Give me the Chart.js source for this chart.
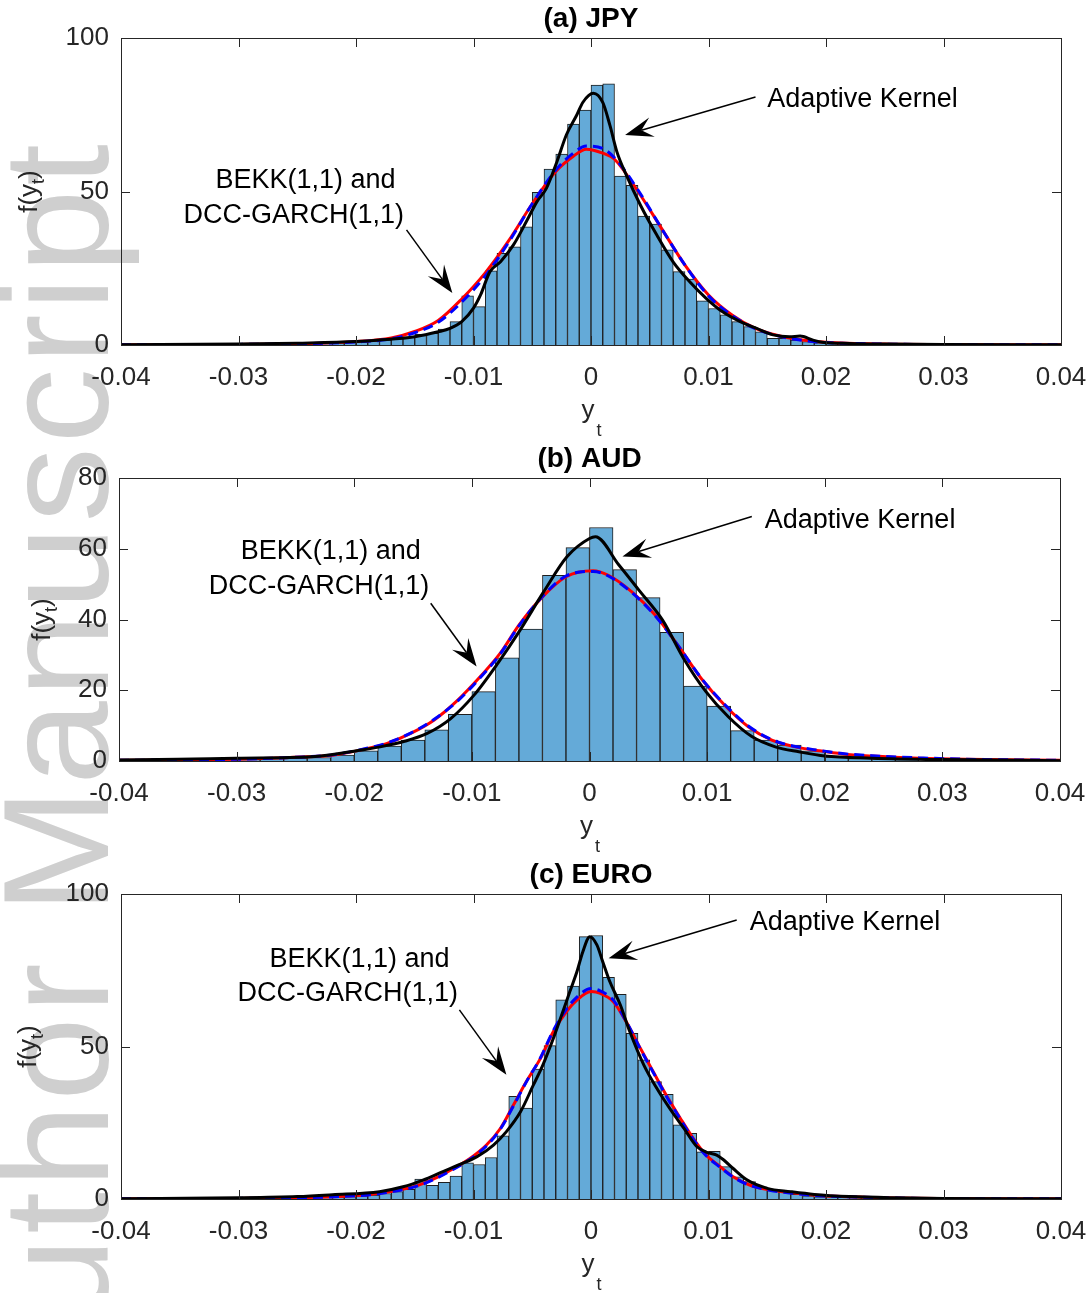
<!DOCTYPE html>
<html>
<head>
<meta charset="utf-8">
<script src="https://cdn.jsdelivr.net/npm/chart.js@4.4.1/dist/chart.umd.min.js"></script>
<style>
  html, body { margin: 0; padding: 0; background: #fff; }
  #page { position: relative; width: 1091px; height: 1293px; overflow: hidden; }
  #page canvas { position: absolute; left: 0; top: 0; }
</style>
</head>
<body>
<div id="page">
  <canvas id="jpy" width="1091" height="1293"></canvas>
  <canvas id="aud" width="1091" height="1293"></canvas>
  <canvas id="euro" width="1091" height="1293"></canvas>
</div>
<script>
// shared x axis
const xTicks = [-0.04, -0.03, -0.02, -0.01, 0, 0.01, 0.02, 0.03, 0.04];
const xTickText = ['-0.04', '-0.03', '-0.02', '-0.01', '0', '0.01', '0.02', '0.03', '0.04'];

// (a) JPY
const jpyYTicks = [0, 50, 100];
const jpyBinStart = -0.030;
const jpyBinWidth = 0.001;
const jpyDensity = [0.2, 0.2, 0.3, 0.3, 0.4, 0.4, 0.5, 0.6, 0.8, 1.0, 1.1, 1.3, 1.6, 2.2, 2.7, 3.5, 3.8, 5.2, 7.6, 16,
  12.5, 24.2, 29.9, 32, 38.5, 49.7, 57.3, 62.2, 72, 76.5, 84.7, 85.1, 55, 52, 42, 39.4, 31, 23.9, 21.5, 14.4,
  11.9, 9.8, 7.6, 6.0, 4.3, 2.2, 2.2, 1.6, 1.1, 0.7, 0.5, 0.4, 0.3, 0.2, 0.2];
const jpyModelX = [-0.04, -0.03, -0.025, -0.02, -0.017, -0.015, -0.013, -0.011, -0.009, -0.007, -0.005, -0.003, -0.0015,
  -0.0004, 0.001, 0.002, 0.004, 0.006, 0.008, 0.010, 0.012, 0.014, 0.016, 0.018, 0.020, 0.025, 0.03, 0.04];
const jpyBekk = [0.05, 0.2, 0.4, 1.1, 2.3, 4.4, 8.0, 15.0, 23.5, 34, 46, 56.5, 61.5, 63.8, 62.5, 60.5, 50, 38, 26,
  16.3, 9.8, 5.4, 3.0, 1.6, 0.9, 0.3, 0.15, 0.05];
const jpyDcc = [0.05, 0.2, 0.4, 1.0, 2.0, 4.0, 7.4, 14.0, 22.5, 33.5, 46, 57, 62.5, 64.8, 64, 61, 50.5, 38, 26,
  16, 9.6, 5.3, 2.9, 1.5, 0.8, 0.3, 0.15, 0.05];
const jpyKernelX = [-0.04, -0.03, -0.025, -0.02, -0.018, -0.015, -0.013, -0.012, -0.011, -0.010, -0.0094, -0.0086,
  -0.0077, -0.0066, -0.0055, -0.0046, -0.0038, -0.0029, -0.0021, -0.0012, -0.0007, 0.0002, 0.001, 0.0016, 0.0022,
  0.003, 0.0042, 0.0056, 0.007, 0.0084, 0.0098, 0.0112, 0.0127, 0.0141, 0.0155, 0.0169, 0.0178, 0.0189, 0.0197,
  0.022, 0.025, 0.03, 0.04];
const jpyKernel = [0.1, 0.3, 0.6, 1.1, 1.6, 2.7, 4.3, 5.4, 7.6, 12, 16.3, 23.9, 27.1, 32.6, 40.2, 46.7, 51, 59.7,
  68.4, 75, 79, 82, 79, 71.7, 63, 55.4, 45.6, 35.8, 27, 20.6, 15.2, 10.8, 7.6, 5.4, 3.3, 2.7, 2.9, 1.6, 0.9,
  0.5, 0.3, 0.15, 0.05];

// (b) AUD
const audYTicks = [0, 20, 40, 60, 80];
const audBinStart = -0.032;
const audBinWidth = 0.002;
const audDensity = [0.5, 0.8, 0.9, 0.8, 1.0, 1.7, 2.9, 4.2, 5.9, 8.8, 13.2, 19.6, 29.2, 37.3, 52.5, 60.3, 66,
  54.1, 46.2, 36.4, 21.2, 15.5, 8.6, 5.9, 4.5, 2.9, 1.2, 0.7, 0.4, 0.3];
const audModelX = [-0.04, -0.035, -0.03, -0.027, -0.024, -0.0217, -0.0192, -0.0172, -0.0152, -0.0132, -0.0112,
  -0.0093, -0.0076, -0.006, -0.004, -0.002, 0.0003, 0.0016, 0.0036, 0.0056, 0.0076, 0.0096, 0.0116, 0.0135,
  0.0155, 0.0175, 0.0195, 0.0215, 0.024, 0.028, 0.032, 0.04];
const audBekk = [0.2, 0.3, 0.5, 0.8, 1.2, 1.7, 3.3, 5, 7.8, 11.6, 17.2, 23.8, 30.4, 38.4, 46.4, 52.1, 53.8, 52.5,
  47.8, 41.2, 32.3, 22.9, 15.4, 9.7, 5.9, 4, 2.9, 2, 1.4, 0.8, 0.5, 0.2];
const audDcc = [0.2, 0.3, 0.5, 0.8, 1.2, 1.8, 3.4, 5.1, 7.9, 11.8, 17.0, 23.5, 30.2, 38.2, 46.5, 52.3, 53.6, 52.3,
  47.6, 41.0, 32.3, 23.0, 15.6, 9.9, 6.0, 4.1, 3.0, 2.1, 1.5, 0.9, 0.5, 0.2];
const audKernelX = [-0.04, -0.035, -0.03, -0.0237, -0.0217, -0.0198, -0.0178, -0.0158, -0.0138, -0.0118, -0.0098,
  -0.0078, -0.0059, -0.0039, -0.0019, 0, 0.0005, 0.0025, 0.0042, 0.0062, 0.008, 0.0099, 0.0118, 0.0138, 0.0158,
  0.0178, 0.02, 0.024, 0.03, 0.04];
const audKernel = [0.3, 0.5, 0.8, 1.2, 1.9, 2.9, 4, 5.5, 7.8, 12, 18.7, 27.6, 37, 47.8, 57.8, 62.9, 63.4, 55.4,
  48.3, 39.9, 29, 19.6, 12.5, 6.9, 4, 2.6, 1.4, 0.8, 0.4, 0.1];

// (c) EURO
const euroYTicks = [0, 50, 100];
const euroBinStart = -0.028;
const euroBinWidth = 0.001;
const euroDensity = [0.2, 0.2, 0.3, 0.3, 0.4, 0.5, 0.6, 0.8, 1.0, 1.3, 1.8, 2.4, 3.2, 6.5, 4.5, 5.5, 7.5, 11.9,
  11.3, 13.6, 20.7, 33.7, 29.8, 42.6, 50.3, 65.3, 69.8, 86, 86.4, 72.7, 67.1, 54.3, 45.6, 38.5, 34.3, 24.3, 21.5,
  15.5, 15.6, 10.6, 7.3, 5.7, 4.0, 3.0, 2.2, 1.5, 1.0, 0.7, 0.5, 0.4, 0.3, 0.2];
const euroModelX = [-0.04, -0.03, -0.025, -0.0215, -0.0188, -0.0168, -0.0148, -0.0131, -0.0117, -0.0103, -0.0089,
  -0.0077, -0.0066, -0.0055, -0.0043, -0.0032, -0.0021, -0.0012, 0, 0.0008, 0.0019, 0.003, 0.0042, 0.0053, 0.0064,
  0.0076, 0.0087, 0.0098, 0.011, 0.0121, 0.0135, 0.0152, 0.0169, 0.0189, 0.022, 0.026, 0.03, 0.04];
const euroBekk = [0.05, 0.2, 0.4, 0.8, 1.5, 2.6, 4.4, 7.1, 10, 13.3, 17.7, 23.2, 30.8, 38.5, 46.1, 54.9, 61.4, 65.2,
  68, 67.4, 64.7, 58.1, 49.4, 41.7, 34.1, 26.5, 19.9, 14.4, 10.6, 7.3, 4.6, 3, 2.1, 1.3, 0.7, 0.3, 0.15, 0.05];
const euroDcc = [0.05, 0.2, 0.4, 0.8, 1.4, 2.5, 4.2, 6.9, 9.8, 13.0, 17.4, 23.0, 30.5, 38.4, 46.3, 55.3, 62.2, 66.2,
  69.0, 68.2, 65.2, 58.2, 49.2, 41.5, 33.8, 26.2, 19.6, 14.2, 10.4, 7.2, 4.5, 2.9, 2.0, 1.2, 0.7, 0.3, 0.15, 0.05];
const euroKernelX = [-0.04, -0.03, -0.025, -0.022, -0.018, -0.016, -0.0143, -0.0126, -0.0111, -0.0097, -0.0083,
  -0.0072, -0.006, -0.0049, -0.0041, -0.0032, -0.0024, -0.0018, -0.0012, -0.0007, -0.0001, 0.0005, 0.001, 0.0016,
  0.0025, 0.0033, 0.0045, 0.0056, 0.0067, 0.0079, 0.009, 0.0098, 0.0107, 0.0113, 0.0121, 0.0133, 0.015, 0.017,
  0.019, 0.022, 0.026, 0.03, 0.04];
const euroKernel = [0.1, 0.4, 0.8, 1.4, 2.4, 4, 6.2, 9, 11.4, 13.9, 17.7, 22.1, 28.6, 37.4, 43.9, 52.7, 61.4, 68,
  74.5, 81, 86, 83.3, 77.8, 71.3, 63.6, 54.9, 43.9, 36.3, 29.7, 23.2, 17.2, 15.4, 14.4, 12.8, 10, 6.2, 3.5, 2.4,
  1.5, 0.8, 0.4, 0.2, 0.05];

const FONT = '"Liberation Sans", Arial, Helvetica, sans-serif';
const INK = '#262626';
const PAGE_W = 1091, PAGE_H = 1293;
const X_AXIS_H = 40;

Chart.defaults.font.family = FONT;
Chart.defaults.color = INK;

function binCenters(start, width, n) {
  const out = [];
  for (let i = 0; i < n; i++) out.push(+(start + (i + 0.5) * width).toFixed(6));
  return out;
}

function pairs(xs, ys) {
  return xs.map((x, i) => ({ x: x, y: ys[i] }));
}

// thin shaft + swept-back filled head, like a MATLAB annotation arrow
function arrow(ctx, x0, y0, x1, y1) {
  const ang = Math.atan2(y1 - y0, x1 - x0);
  const len = 28, half = 10, notch = 17;
  ctx.beginPath();
  ctx.moveTo(x0, y0);
  ctx.lineTo(x1 - Math.cos(ang) * notch, y1 - Math.sin(ang) * notch);
  ctx.lineWidth = 1.5;
  ctx.stroke();
  ctx.save();
  ctx.translate(x1, y1);
  ctx.rotate(ang);
  ctx.beginPath();
  ctx.moveTo(0, 0);
  ctx.lineTo(-len, -half);
  ctx.lineTo(-notch, 0);
  ctx.lineTo(-len, half);
  ctx.closePath();
  ctx.fill();
  ctx.restore();
}

// box around the plot with inward ticks on all four sides
const framePlugin = {
  id: 'frame',
  afterDatasetsDraw(chart) {
    const { ctx, chartArea: a, scales: { x, y } } = chart;
    const tl = 9;
    ctx.save();
    ctx.strokeStyle = INK;
    ctx.lineWidth = 1;
    ctx.strokeRect(Math.round(a.left) + 0.5, Math.round(a.top) + 0.5,
      Math.round(a.right) - Math.round(a.left), Math.round(a.bottom) - Math.round(a.top));
    ctx.beginPath();
    x.ticks.forEach(t => {
      const px = Math.round(x.getPixelForValue(t.value)) + 0.5;
      ctx.moveTo(px, a.bottom); ctx.lineTo(px, a.bottom - tl);
      ctx.moveTo(px, a.top); ctx.lineTo(px, a.top + tl);
    });
    y.ticks.forEach(t => {
      const py = Math.round(y.getPixelForValue(t.value)) + 0.5;
      ctx.moveTo(a.left, py); ctx.lineTo(a.left + tl, py);
      ctx.moveTo(a.right, py); ctx.lineTo(a.right - tl, py);
    });
    ctx.stroke();
    ctx.restore();
  }
};

// titles, axis labels and the two arrow notes
function textPlugin(p) {
  return {
    id: 'texts',
    afterDraw(chart) {
      const { ctx, chartArea: a, scales: { x, y } } = chart;
      const cx = (a.left + a.right) / 2;
      ctx.save();
      ctx.fillStyle = '#000';
      ctx.textAlign = 'center';
      ctx.textBaseline = 'middle';
      ctx.font = 'bold 28px ' + FONT;
      ctx.fillText(p.title, cx, a.top - 19);

      // x label y_t
      ctx.fillStyle = INK;
      ctx.textBaseline = 'alphabetic';
      ctx.font = '26px ' + FONT;
      ctx.fillText('y', cx - 3, a.bottom + 73);
      ctx.font = '18px ' + FONT;
      ctx.fillText('t', cx + 8, a.bottom + 91);

      // y label f(y_t), rotated
      ctx.save();
      ctx.translate(p.ylabelX, (a.top + a.bottom) / 2);
      ctx.rotate(-Math.PI / 2);
      ctx.textAlign = 'left';
      ctx.font = '26px ' + FONT;
      const w1 = ctx.measureText('f(y').width;
      ctx.font = '18px ' + FONT;
      const w2 = ctx.measureText('t').width;
      ctx.font = '26px ' + FONT;
      const w3 = ctx.measureText(')').width;
      const x0 = -(w1 + w2 + w3) / 2;
      ctx.fillText('f(y', x0, 0);
      ctx.font = '18px ' + FONT;
      ctx.fillText('t', x0 + w1, 7);
      ctx.font = '26px ' + FONT;
      ctx.fillText(')', x0 + w1 + w2, 0);
      ctx.restore();

      // notes
      ctx.fillStyle = '#000';
      ctx.strokeStyle = '#000';
      ctx.font = '27px ' + FONT;
      ctx.textBaseline = 'middle';
      const n = p.notes;
      ctx.textAlign = 'left';
      ctx.fillText('Adaptive Kernel', x.getPixelForValue(n.kernelText[0]), y.getPixelForValue(n.kernelText[1]));
      ctx.textAlign = 'center';
      ctx.fillText('BEKK(1,1) and', x.getPixelForValue(n.modelText1[0]), y.getPixelForValue(n.modelText1[1]));
      ctx.fillText('DCC-GARCH(1,1)', x.getPixelForValue(n.modelText2[0]), y.getPixelForValue(n.modelText2[1]));
      arrow(ctx, x.getPixelForValue(n.kernelArrow[0]), y.getPixelForValue(n.kernelArrow[1]),
        x.getPixelForValue(n.kernelArrow[2]), y.getPixelForValue(n.kernelArrow[3]));
      arrow(ctx, x.getPixelForValue(n.modelArrow[0]), y.getPixelForValue(n.modelArrow[1]),
        x.getPixelForValue(n.modelArrow[2]), y.getPixelForValue(n.modelArrow[3]));
      ctx.restore();
    }
  };
}

// grey manuscript stamp down the left edge, behind everything
const stampPlugin = {
  id: 'stamp',
  beforeDraw(chart) {
    const ctx = chart.ctx;
    ctx.save();
    ctx.translate(108, 140);
    ctx.rotate(-Math.PI / 2);
    ctx.fillStyle = '#cfcfcf';
    ctx.font = '150px ' + FONT;
    ctx.letterSpacing = '4px';
    ctx.textAlign = 'right';
    ctx.textBaseline = 'alphabetic';
    ctx.fillText('Author Manuscript', 0, 0);
    ctx.restore();
  }
};

function drawPanel(id, p, extra) {
  const n = p.density.length;
  return new Chart(document.getElementById(id), {
    type: 'bar',
    data: {
      datasets: [
        { type: 'line', label: 'Adaptive Kernel', data: pairs(p.kernelX, p.kernel), borderColor: '#000',
          borderWidth: 3, pointRadius: 0, cubicInterpolationMode: 'monotone', order: 1 },
        { type: 'line', label: 'DCC-GARCH(1,1)', data: pairs(p.modelX, p.dcc), borderColor: '#0000ff',
          borderWidth: 3, borderDash: [10, 6], pointRadius: 0, cubicInterpolationMode: 'monotone', order: 2 },
        { type: 'line', label: 'BEKK(1,1)', data: pairs(p.modelX, p.bekk), borderColor: '#ff0000',
          borderWidth: 3, pointRadius: 0, cubicInterpolationMode: 'monotone', order: 3 },
        { type: 'bar', label: 'Histogram', data: pairs(binCenters(p.binStart, p.binWidth, n), p.density),
          backgroundColor: '#64aad8', borderColor: '#1e1e1e', borderWidth: 1,
          barPercentage: 1, categoryPercentage: 1, order: 4 }
      ]
    },
    options: {
      responsive: false,
      animation: false,
      events: [],
      layout: { padding: { top: p.top, left: 0, right: PAGE_W - p.right, bottom: PAGE_H - p.bottom - X_AXIS_H } },
      plugins: { legend: { display: false }, tooltip: { enabled: false }, title: { display: false } },
      scales: {
        x: {
          type: 'linear', min: -0.04, max: 0.04, offset: false,
          grid: { display: false, drawTicks: false }, border: { display: false },
          afterBuildTicks: s => { s.ticks = xTicks.map(v => ({ value: v })); },
          afterFit: s => { s.height = X_AXIS_H; s.paddingLeft = 0; s.paddingRight = 0; },
          ticks: { autoSkip: false, maxRotation: 0, padding: 17, font: { size: 26 }, color: INK,
            callback: (v, i) => xTickText[i] }
        },
        y: {
          min: 0, max: p.yTicks[p.yTicks.length - 1],
          grid: { display: false, drawTicks: false }, border: { display: false },
          afterBuildTicks: s => { s.ticks = p.yTicks.map(v => ({ value: v })); },
          afterFit: s => { s.width = p.left; s.paddingTop = 0; s.paddingBottom = 0; },
          ticks: { padding: 12, font: { size: 26 }, color: INK, callback: (v, i) => String(p.yTicks[i]) }
        }
      }
    },
    plugins: (extra || []).concat([framePlugin, textPlugin(p)])
  });
}

drawPanel('jpy', {
  title: '(a) JPY', top: 38, bottom: 345, left: 121, right: 1061, ylabelX: 37,
  yTicks: jpyYTicks, binStart: jpyBinStart, binWidth: jpyBinWidth, density: jpyDensity,
  modelX: jpyModelX, bekk: jpyBekk, dcc: jpyDcc, kernelX: jpyKernelX, kernel: jpyKernel,
  notes: {
    kernelText: [0.0150, 79.8], kernelArrow: [0.0140, 80.8, 0.0029, 68.4],
    modelText1: [-0.0243, 53.7], modelText2: [-0.0253, 42.3], modelArrow: [-0.0157, 37.5, -0.0118, 16.9]
  }
}, [stampPlugin]);

drawPanel('aud', {
  title: '(b) AUD', top: 478, bottom: 761, left: 119, right: 1060, ylabelX: 50,
  yTicks: audYTicks, binStart: audBinStart, binWidth: audBinWidth, density: audDensity,
  modelX: audModelX, bekk: audBekk, dcc: audDcc, kernelX: audKernelX, kernel: audKernel,
  notes: {
    kernelText: [0.0149, 68.1], kernelArrow: [0.0138, 69.1, 0.0028, 57.8],
    modelText1: [-0.0220, 59.1], modelText2: [-0.0230, 49.2], modelArrow: [-0.0135, 44.6, -0.0096, 26.7]
  }
});

drawPanel('euro', {
  title: '(c) EURO', top: 894, bottom: 1199, left: 121, right: 1061, ylabelX: 36,
  yTicks: euroYTicks, binStart: euroBinStart, binWidth: euroBinWidth, density: euroDensity,
  modelX: euroModelX, bekk: euroBekk, dcc: euroDcc, kernelX: euroKernelX, kernel: euroKernel,
  notes: {
    kernelText: [0.0135, 90.8], kernelArrow: [0.0124, 91.5, 0.0015, 78.9],
    modelText1: [-0.0197, 78.4], modelText2: [-0.0207, 67.2], modelArrow: [-0.0112, 62.0, -0.0072, 40.7]
  }
});
</script>
</body>
</html>
